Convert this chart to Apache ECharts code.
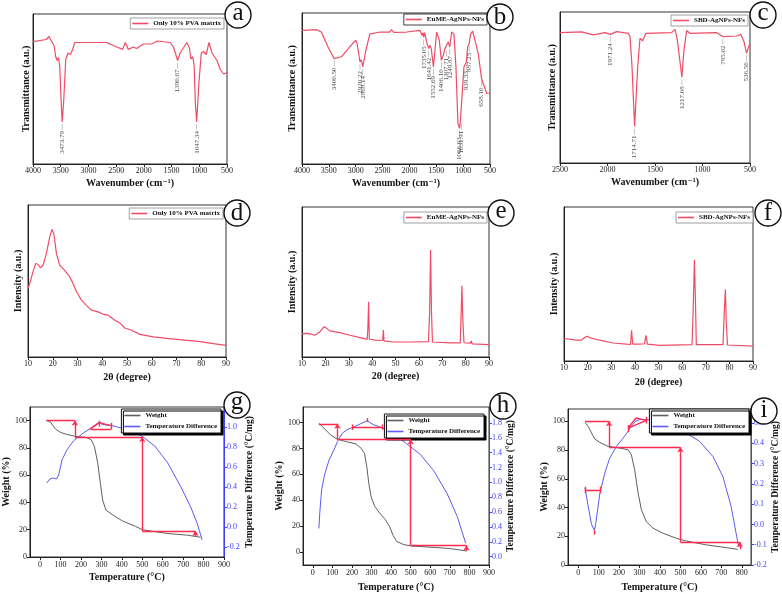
<!DOCTYPE html>
<html><head><meta charset="utf-8">
<script src="https://cdn.jsdelivr.net/npm/echarts@6/dist/echarts.min.js"></script>
<style>html,body{margin:0;padding:0;background:#fff}#c{width:782px;height:594px}</style>
</head><body><div id="c"></div>
<script>
// ---------------- DATA ----------------
const ftirA = [[4000,81.6],[3760,83],[3710,85],[3668,82],[3620,79],[3590,71.5],[3565,69],[3541,71],[3517,65],[3490,40],[3473.79,28],[3445,42.7],[3409,70],[3366,74],[3324,73],[3288,76],[3246,81],[2672,81],[2491,78],[2383,76.4],[2335,81],[2280,76.4],[2190,78],[2130,77],[2009,80],[1858,80],[1755,82],[1526,81],[1466,78],[1390.67,69],[1345,74],[1224,81],[1176,77],[1152,70],[1116,71.5],[1092,65],[1070,40],[1047.34,28],[1007,54],[964,74],[922,75],[874,73],[826,81],[771,74],[681,69],[621,63],[560,60],[500,61]];
const peaksA = [[3473.79,28],[1390.67,69],[1047.34,28]];

const ftirB = [[4000,88.5],[3733,89],[3640,87.4],[3515,77.5],[3400.5,69.8],[3266,71],[3111,77.5],[2999,82],[2974,79.7],[2920.22,67.6],[2895,69],[2868.14,64.3],[2813,75],[2738,86],[2551,87.4],[2365,87.4],[2334,89],[2290,87.2],[2054,87.4],[1805,88.5],[1762,85],[1748,87],[1735.05,84],[1718,87],[1681,80.8],[1641.42,76.4],[1618,78.6],[1594,76.4],[1552.69,64.3],[1494,87.4],[1444,82],[1406.1,68.7],[1370,72],[1339,76.4],[1307.71,76.4],[1277,80.8],[1249.87,77.5],[1215,87.4],[1171,86],[1134,64.3],[1097,26.9],[1066.63,23.6],[1050,29],[1031.91,28],[985,64.3],[939.33,67.6],[917,77.5],[887.25,79.7],[861,86],[823,88],[780,82],[718,73],[658.1,56.6],[612,52],[562,46.7],[500,47]];
const peaksB = [[3400.5,69.8],[2920.22,67.6],[2868.14,64.3],[1735.05,84],[1641.42,76.4],[1552.69,64.3],[1406.1,68.7],[1307.71,76.4],[1249.87,77.5],[1066.63,23.6],[1031.91,28],[939.33,67.6],[887.25,79.7],[658.1,56.6]];

const ftirC = [[2500,86.3],[2272,86.8],[2149,84.8],[2026,86.3],[1971.24,85.2],[1904,87],[1781,85.9],[1763,83.7],[1742,63.9],[1714.71,24.2],[1682,63.9],[1658,82.6],[1630,81],[1595,85.9],[1325,86.3],[1289,88.5],[1265,81.5],[1217.08,56.8],[1195,74.9],[1167,87.7],[1132,85.9],[851,86.3],[785.02,83.7],[640,84.1],[598,85.2],[563,80.4],[536.56,72.7],[507,78.2],[500,79.3]];
const peaksC = [[1971.24,85.2],[1714.71,24.2],[1217.08,56.8],[785.02,83.7],[536.56,72.7]];

const xrdD = [[10,45],[10.9,49.5],[12,56],[13.1,61.5],[14,61],[15,58.7],[16.1,60.4],[17.4,68],[18.8,79],[19.7,84],[20.4,81.3],[21.5,68],[22.8,60.4],[24.8,57],[26.9,52.7],[28.2,48.4],[29.6,42.9],[31.6,37.4],[33.6,34],[35.6,30.8],[38.3,29.7],[40.4,28.1],[42.4,27.5],[45.1,24.2],[47.1,22.4],[49.1,19.1],[51.8,17.6],[55.2,14.9],[60.6,13.2],[66,12.3],[71.4,11.4],[79.5,10.1],[84.9,8.8],[90,7.7]];
const xrdE = [[10,15.6],[12,15.8],[14,15.2],[15.4,14.5],[17.6,16.7],[19.3,20.1],[20.2,19.6],[21.9,17.4],[26.2,16.3],[30.5,14.5],[34.8,12.9],[37.9,11.8],[38.2,20],[38.5,36.8],[38.8,12],[41.2,11.2],[44.5,11],[44.8,17.9],[45.1,10.8],[49.1,10],[56.2,10],[64.1,10.2],[64.6,30],[65,71.4],[65.4,30],[65.8,10],[73.4,9.4],[77.7,9.4],[78.1,30],[78.4,47.5],[78.8,25],[79.3,9.5],[82,9.2],[82.4,10.7],[82.8,8.8],[90,8.3]];
const xrdF = [[10,14.6],[15.2,13.5],[17.3,13.5],[18.7,15.2],[19.9,16.1],[21.1,15],[25.1,13.5],[30.7,11.7],[36.4,10.9],[38.2,10.7],[38.6,20],[39.1,11],[42,10.9],[44.1,11.2],[44.7,16.7],[45.3,10.9],[50.5,10.2],[64.2,10.6],[64.7,35],[65.2,65.7],[65.7,35],[66,10.6],[77.3,10.6],[77.8,30],[78.3,46.5],[78.7,25],[79.2,10.4],[90,9.6]];

const weightG = [[32,100.2],[51,98.8],[75,93.9],[99,91.4],[131,89.9],[171,88.5],[226,87.7],[250,86],[266,81],[282,68.8],[295,54],[306,41.8],[322,34.4],[354,31],[402,26.5],[466,22.5],[501,20],[625,17.2],[721,16],[785,14.5]];
const diffG = [[32,0.44],[48,0.48],[64,0.49],[80,0.48],[91,0.52],[107,0.67],[131,0.77],[163,0.86],[211,0.94],[250,0.99],[270,1.02],[289.65,1.05],[300,1.03],[320,1.02],[338,1.02],[378,1.0],[434,0.97],[498,0.91],[561,0.81],[625,0.64],[689,0.40],[737,0.2],[769,0.035],[793,-0.13]];
const stepsG = [[[30,100],[170,100]],[[170,88],[500,88]],[[500,19],[760,19]],[[246,94],[346,94]],[[246,94],[290,98.5]],[[290,98.5],[346,96.3]],[[290,95.5],[290,100]],[[346,93.5],[346,98.5]]];
const arrowsG = [[[170,88],[170,100]],[[500,19],[500,88]],[[760,14.8],[760,19]]];
const notesG = [[105,105.2,'11.32% (0.1770 mg)'],[306,102.7,'289.65 °C'],[298,91,'267.45 °C'],[370,84.8,'69.19% (1.081 mg)'],[633,22.6,'5.017% (0.07842 mg)'],[719,10.8,'Residue:'],[785,4.4,'14.46% (0.2260 mg)']];

const weightH = [[31,99.5],[57,95.6],[91,90.4],[126,87.1],[169,85.3],[221,83.5],[247,80.1],[264,76.2],[276,65.9],[286,53],[298,42.6],[316,35.4],[341,30.2],[367,25.8],[393,19.4],[410,12.9],[428,8.3],[462,5.9],[500,4.7],[669,3.1],[721,2.3],[786,0.8]];
const diffH = [[31,0.38],[36,0.6],[45,0.9],[60,1.1],[83,1.3],[110,1.45],[126,1.55],[150,1.66],[175,1.71],[212,1.75],[245,1.79],[278.39,1.83],[307,1.78],[350,1.74],[410,1.66],[479,1.52],[548,1.38],[617,1.16],[686,0.85],[738,0.54],[781,0.18]];
const stepsH = [[[31,99],[126,99]],[[126,87],[500,87]],[[500,5],[785,5]],[[203,96.4],[355,96.4]],[[203,94.5],[203,98.5]],[[355,94.5],[355,98.5]],[[278,100.5],[278,103.5]]];
const arrowsH = [[[126,87],[126,99]],[[500,5],[500,87]],[[785,0.8],[785,5]]];
const notesH = [[83,104.1,'13.89% (0.2386 mg)'],[298,106,'278.39 °C'],[264,93,'231.17 °C'],[307,88.6,'0.1375 °C.min/mg'],[384,81.9,'80.87% (1.389 mg)'],[652,7.8,'4.388% (0.07539 mg)']];

const weightI = [[33,99.3],[49,96.5],[65,91.9],[81,87.7],[106,85.3],[146,82.6],[203,81.4],[244,80.2],[260,76.7],[276,66.3],[293,50],[309,38.4],[333,30.2],[366,25.6],[415,22.1],[480,18.6],[528,16.7],[626,14],[724,12.1],[780,10.9]];
const diffI = [[33,0.18],[49,0.088],[65,0],[79.42,-0.03],[86,0.006],[106,0.154],[130,0.253],[154,0.327],[187,0.385],[220,0.426],[244,0.459],[260,0.484],[282.86,0.51],[301,0.517],[341,0.517],[398,0.5],[463,0.475],[528,0.45],[593,0.41],[659,0.335],[707,0.237],[748,0.088],[772,-0.043],[785,-0.11]];
const stepsI = [[[33,100],[151,100]],[[151,82],[500,82]],[[500,15.8],[790,15.8]],[[33,52.3],[106,52.3]],[[33,50],[33,54.5]],[[106,50],[106,54.5]],[[79,21],[79,24]],[[244,95.3],[282,102.3]],[[282,102.3],[333,100.7]],[[244,95.3],[333,100.7]],[[244,92.5],[244,97.5]],[[333,98.5],[333,103]]];
const arrowsI = [[[151,82],[151,100]],[[500,15.8],[500,82]],[[790,11],[790,15.8]]];
const notesI = [[98,102.3,'17.33% (0.3862 mg)'],[285,105.3,'282.86 °C'],[320,95.3,'258.94 °C'],[374,88.8,'0.03633 °C.min/mg'],[366,77.9,'67.23% (1.499 mg)'],[98,57,'0.6044 °C.min/mg'],[76,17.9,'79.42 °C'],[642,19.3,'5.322% (0.1186 mg)'],[740,8.1,'Residue:'],[675,1.6,'10.12% (0.2256 mg)']];

const tempTicks = [0,100,200,300,400,500,600,700,800,900];
const tempTicksI = [0,100,200,300,400,500,600,700,800];
const weightTicks = [0,20,40,60,80,100];
const diffTicksG = [-0.2,0,0.2,0.4,0.6,0.8,1.0];
const diffTicksH = [0,0.2,0.4,0.6,0.8,1.0,1.2,1.4,1.6,1.8];
const diffTicksI = [-0.2,-0.1,0,0.1,0.2,0.3,0.4,0.5];

// ---------------- BUILD ----------------
const SERIF = '"Liberation Serif","DejaVu Serif",serif';
const RED = '#f04c66', RED2 = '#ff2a50', GRAY = '#5b625b', BLUE = '#5c5cf0', BLUE_L = '#3f3fff';
const grids=[], xAxis=[], yAxis=[], series=[], legend=[], graphic=[];
const nameStyle = {fontFamily:SERIF,fontWeight:'bold',fontSize:10,color:'#111'};
const plain = v => String(v);

function mkX(gi,o){return Object.assign({gridIndex:gi,type:'value',nameLocation:'middle',nameTextStyle:nameStyle,
  axisLine:{show:true,onZero:false,lineStyle:{color:'#222',width:1}},axisTick:{show:true,length:3,lineStyle:{color:'#222'}},
  axisLabel:{fontFamily:SERIF,fontSize:8,color:'#222',margin:3,formatter:plain},splitLine:{show:false}},o);}
function addGrid(r){grids.push({left:r[0],top:r[1],width:r[2],height:r[3],show:true,borderColor:'#333',borderWidth:1});return grids.length-1;}
function addLegend(names,rightEdge,top,extra){legend.push(Object.assign({data:names,right:782-rightEdge,top,orient:'vertical',selectedMode:false,
  icon:'rect',backgroundColor:'#fff',borderColor:'#888',borderWidth:0.8,padding:[2,3,2,2],itemGap:3,itemWidth:16,itemHeight:1.6,
  textStyle:{fontFamily:SERIF,fontWeight:'bold',fontSize:7,color:'#111'}},extra||{}));}
function addCircle(letter,cx,cy,dy){
  graphic.push({type:'circle',shape:{cx,cy,r:13},style:{fill:'#fff',stroke:'#111',lineWidth:1.4},z:100});
  graphic.push({type:'text',x:cx,y:cy+(dy||0),style:{text:letter,align:'center',verticalAlign:'middle',font:'25px '+SERIF,fill:'#111'},z:101});
}

function specPanel(p){
  const gi=addGrid(p.rect);
  const xi=xAxis.length; xAxis.push(mkX(gi,{min:p.xmin,max:p.xmax,interval:p.interval,inverse:!!p.inverse,name:p.xName,nameGap:p.xGap}));
  const yi=yAxis.length; yAxis.push({gridIndex:gi,type:'value',min:0,max:100,axisLabel:{show:false},axisTick:{show:false},splitLine:{show:false},
    axisLine:{show:true,lineStyle:{color:'#222'}},name:p.yName,nameLocation:'middle',nameRotate:90,nameGap:p.yGap,nameTextStyle:nameStyle});
  series.push({type:'line',name:p.name,xAxisIndex:xi,yAxisIndex:yi,data:p.data,symbol:'none',lineStyle:{color:RED,width:1.2},itemStyle:{color:RED},z:3});
  if(p.peaks) series.push({type:'scatter',xAxisIndex:xi,yAxisIndex:yi,data:p.peaks,symbol:'rect',symbolSize:[0.7,6],symbolOffset:[0,5],
    itemStyle:{color:'#999'},silent:true,z:4,
    label:{show:true,position:'bottom',distance:1,rotate:90,align:'right',verticalAlign:'middle',fontFamily:SERIF,fontSize:7,color:'#222',
      formatter:q=>q.value[0].toFixed(2)}});
  addLegend([p.name],p.leg[0],p.leg[1],p.legExtra);
  addCircle(p.letter,p.circle[0],p.circle[1],p.circle[2]);
}

function tgaPanel(p){
  const gi=addGrid(p.rect);
  const xi=xAxis.length; xAxis.push(mkX(gi,{min:p.xmin,max:p.xmax,name:'Temperature (°C)',nameGap:p.xGap,
    axisLabel:{fontFamily:SERIF,fontSize:8,color:'#222',margin:4,customValues:p.xTicks,formatter:plain},axisTick:{show:true,length:3,customValues:p.xTicks,lineStyle:{color:'#222'}}}));
  const yl=yAxis.length; yAxis.push({gridIndex:gi,type:'value',position:'left',min:p.ymin,max:p.ymax,splitLine:{show:false},
    axisLine:{show:true,onZero:false,lineStyle:{color:'#222'}},axisTick:{show:true,length:3,customValues:weightTicks,lineStyle:{color:'#222'}},
    axisLabel:{fontFamily:SERIF,fontSize:8,color:'#222',margin:3,customValues:weightTicks,formatter:plain},
    name:'Weight (%)',nameLocation:'middle',nameRotate:90,nameGap:p.yGap,nameTextStyle:nameStyle});
  const yr=yAxis.length; yAxis.push({gridIndex:gi,type:'value',position:'right',min:p.rmin,max:p.rmax,splitLine:{show:false},
    axisLine:{show:true,onZero:false,lineStyle:{color:BLUE_L}},axisTick:{show:true,length:3,customValues:p.rTicks,lineStyle:{color:BLUE_L}},
    axisLabel:{fontFamily:SERIF,fontSize:8,color:BLUE_L,margin:3,customValues:p.rTicks,formatter:v=>v.toFixed(1)},
    name:'Temperature Difference (°C/mg)',nameLocation:'middle',nameRotate:90,nameGap:p.rGap,nameTextStyle:Object.assign({},nameStyle,{fontSize:9.5})});
  series.push({type:'line',name:'Weight',xAxisIndex:xi,yAxisIndex:yl,data:p.weight,symbol:'none',lineStyle:{color:GRAY,width:1},itemStyle:{color:GRAY},z:3});
  series.push({type:'line',name:'Temperature Difference',xAxisIndex:xi,yAxisIndex:yr,data:p.diff,symbol:'none',lineStyle:{color:BLUE,width:1},itemStyle:{color:BLUE},z:3});
  series.push({type:'lines',coordinateSystem:'cartesian2d',xAxisIndex:xi,yAxisIndex:yl,polyline:false,silent:true,z:5,
    lineStyle:{color:RED2,width:1.4,opacity:1,curveness:0},symbol:['none','none'],data:p.steps.map(c=>({coords:c}))});
  series.push({type:'lines',coordinateSystem:'cartesian2d',xAxisIndex:xi,yAxisIndex:yl,polyline:false,silent:true,z:5,
    lineStyle:{color:RED2,width:1.4,opacity:1,curveness:0},symbol:['none','arrow'],symbolSize:5,data:p.arrows.map(c=>({coords:c}))});
  series.push({type:'scatter',xAxisIndex:xi,yAxisIndex:yl,silent:true,z:6,symbolSize:1,itemStyle:{opacity:0},
    data:p.notes.map(n=>({value:[n[0],n[1]],name:n[2]})),
    label:{show:true,position:'inside',formatter:'{b}',fontFamily:SERIF,fontSize:7,color:'#222'}});
  addLegend(['Weight','Temperature Difference'],p.leg[0],p.leg[1],{borderColor:'#111',borderWidth:1,shadowColor:'#000',shadowOffsetX:2,shadowOffsetY:2,shadowBlur:0,itemGap:4,padding:[3,4,3,3]});
  addCircle(p.letter,p.circle[0],p.circle[1],p.circle[2]);
}

// legend position given as [right edge, top]
specPanel({rect:[33,14,194,150],xmin:500,xmax:4000,interval:500,inverse:true,xName:'Wavenumber (cm⁻¹)',xGap:14,yName:'Transmittance (a.u.)',yGap:2,
  data:ftirA,peaks:peaksA,name:'Only 10% PVA matrix',leg:[224,18],letter:'a',circle:[238,15,-2]});
specPanel({rect:[302,13,188,151],xmin:500,xmax:4000,interval:500,inverse:true,xName:'Wavenumber (cm⁻¹)',xGap:14,yName:'Transmittance (a.u.)',yGap:5,
  data:ftirB,peaks:peaksB,name:'EuME-AgNPs-NFs',leg:[487,14],legExtra:{borderColor:'#111'},letter:'b',circle:[500,17,0]});
specPanel({rect:[560,12,190,151],xmin:500,xmax:2500,interval:500,inverse:true,xName:'Wavenumber (cm⁻¹)',xGap:14,yName:'Transmittance (a.u.)',yGap:3,
  data:ftirC,peaks:peaksC,name:'SBD-AgNPs-NFs',leg:[748,15],letter:'c',circle:[763,15,-2]});
specPanel({rect:[28,205,198,152],xmin:10,xmax:90,interval:10,xName:'2θ (degree)',xGap:15,yName:'Intensity (a.u.)',yGap:5,
  data:xrdD,name:'Only 10% PVA matrix',leg:[223,208],letter:'d',circle:[237,213,0]});
specPanel({rect:[302,207,187,150],xmin:10,xmax:90,interval:10,xName:'2θ (degree)',xGap:14,yName:'Intensity (a.u.)',yGap:5,
  data:xrdE,name:'EuME-AgNPs-NFs',leg:[487,212],letter:'e',circle:[501,213,-2]});
specPanel({rect:[564,207,189,154],xmin:10,xmax:90,interval:10,xName:'2θ (degree)',xGap:16,yName:'Intensity (a.u.)',yGap:5,
  data:xrdF,name:'SBD-AgNPs-NFs',leg:[753,212],letter:'f',circle:[768,213,0]});

tgaPanel({rect:[26,407,198,150],xmin:-50,xmax:900,xTicks:tempTicks,ymin:0,ymax:110,rmin:-0.3,rmax:1.2,rTicks:diffTicksG,xGap:15,yGap:17,rGap:21,
  weight:weightG,diff:diffG,steps:stepsG,arrows:arrowsG,notes:notesG,leg:[221,409],letter:'g',circle:[237,405,-3]});
tgaPanel({rect:[303,407,186,158],xmin:-50,xmax:900,xTicks:tempTicks,ymin:-10,ymax:112,rmin:-0.112,rmax:2.015,rTicks:diffTicksH,xGap:17,yGap:15,rGap:17,
  weight:weightH,diff:diffH,steps:stepsH,arrows:arrowsH,notes:notesH,leg:[484,414],letter:'h',circle:[503,406,-1]});
tgaPanel({rect:[568,409,183,156],xmin:-50,xmax:845,xTicks:tempTicksI,ymin:0,ymax:108.6,rmin:-0.2,rmax:0.569,rTicks:diffTicksI,xGap:17,yGap:17,rGap:20,
  weight:weightI,diff:diffI,steps:stepsI,arrows:arrowsI,notes:notesI,leg:[749,409],letter:'i',circle:[764,411,-1]});

const chart = echarts.init(document.getElementById('c'),null,{renderer:'canvas'});
chart.setOption({animation:false,backgroundColor:'#fff',grid:grids,xAxis,yAxis,series,legend,graphic});
</script></body></html>
